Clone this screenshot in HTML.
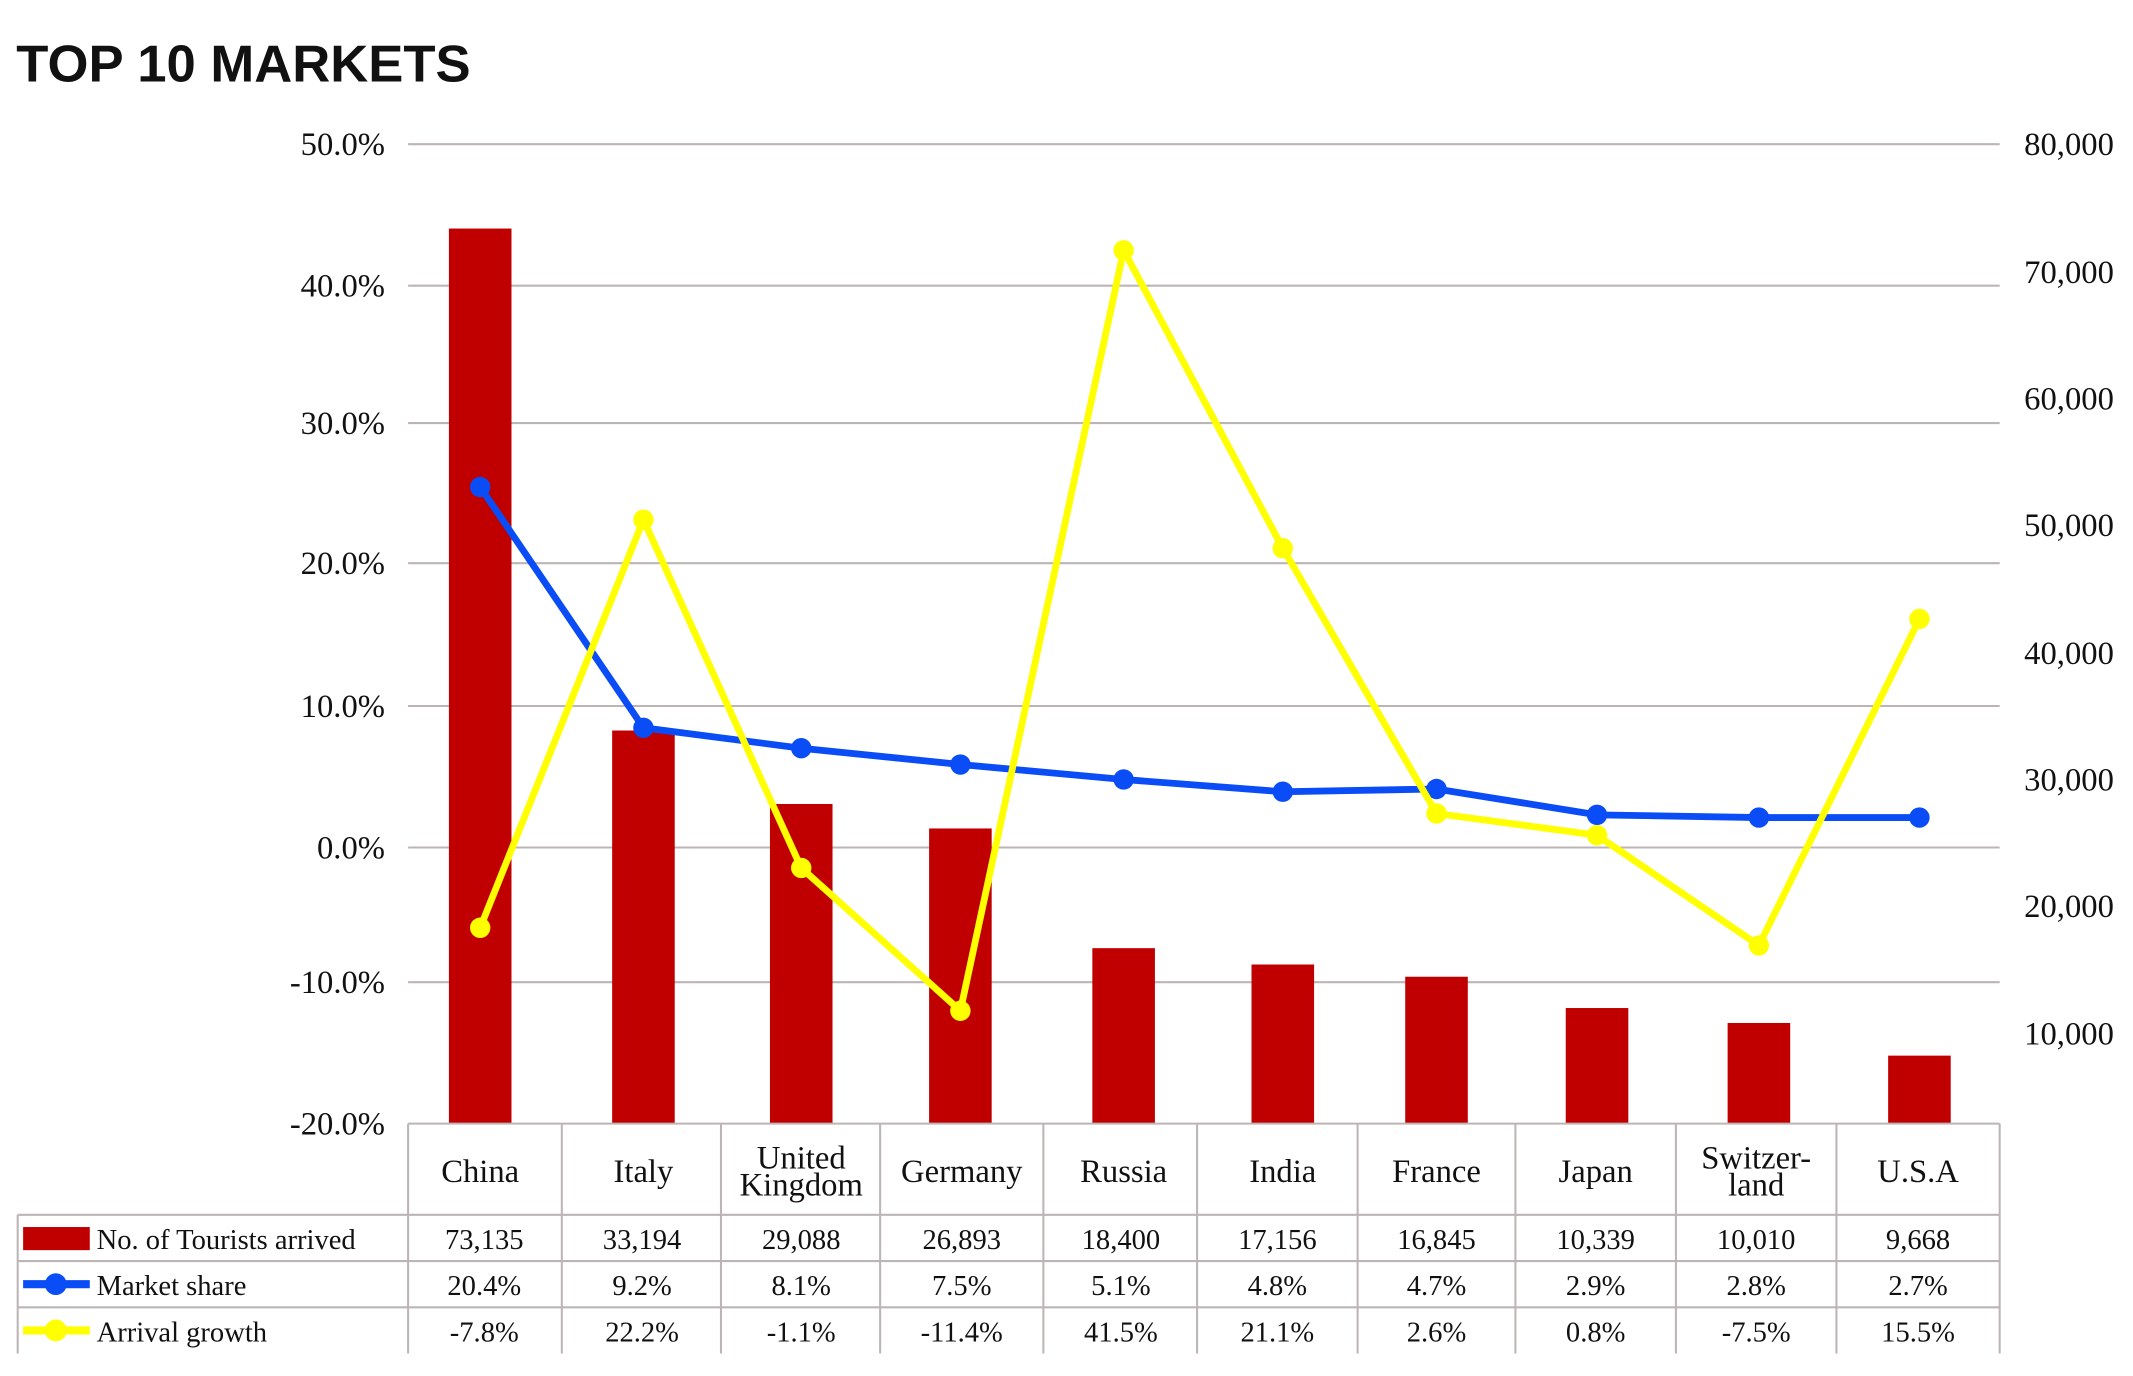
<!DOCTYPE html>
<html><head><meta charset="utf-8"><style>
html,body{margin:0;padding:0;background:#fff;}
svg{display:block;}
text{font-family:"Liberation Serif",serif;fill:#111;}
</style></head><body>
<svg width="2133" height="1376" viewBox="0 0 1568 1011.5" preserveAspectRatio="none" xmlns="http://www.w3.org/2000/svg">
<text x="12" y="60" style="font-family:'Liberation Sans',sans-serif;font-weight:bold;font-size:38px" textLength="334" lengthAdjust="spacingAndGlyphs">TOP 10 MARKETS</text>
<g stroke="#bdb5b5" stroke-width="1.5">
<line x1="300" y1="106" x2="1470" y2="106"/>
<line x1="300" y1="210" x2="1470" y2="210"/>
<line x1="300" y1="311" x2="1470" y2="311"/>
<line x1="300" y1="414" x2="1470" y2="414"/>
<line x1="300" y1="519" x2="1470" y2="519"/>
<line x1="300" y1="623" x2="1470" y2="623"/>
<line x1="300" y1="722" x2="1470" y2="722"/>
</g>
<g font-size="24" text-anchor="end">
<text x="283" y="114">50.0%</text><text x="283" y="218">40.0%</text><text x="283" y="319">30.0%</text>
<text x="283" y="422">20.0%</text><text x="283" y="527">10.0%</text><text x="283" y="631">0.0%</text>
<text x="283" y="730">-10.0%</text><text x="283" y="834">-20.0%</text>
</g>
<g font-size="24">
<text x="1488" y="114">80,000</text><text x="1488" y="208">70,000</text><text x="1488" y="301">60,000</text>
<text x="1488" y="394">50,000</text><text x="1488" y="488">40,000</text><text x="1488" y="581">30,000</text>
<text x="1488" y="674">20,000</text><text x="1488" y="768">10,000</text>
</g>
<g fill="#c00000">
<rect x="330" y="168" width="46" height="658"/>
<rect x="450" y="537" width="46" height="289"/>
<rect x="566" y="591" width="46" height="235"/>
<rect x="683" y="609" width="46" height="217"/>
<rect x="803" y="697" width="46" height="129"/>
<rect x="920" y="709" width="46" height="117"/>
<rect x="1033" y="718" width="46" height="108"/>
<rect x="1151" y="741" width="46" height="85"/>
<rect x="1270" y="752" width="46" height="74"/>
<rect x="1388" y="776" width="46" height="50"/>
</g>
<polyline fill="none" stroke="#0a4cf5" stroke-width="5" points="353,358 473,535 589,550 706,562 826,573 943,582 1056,580 1174,599 1293,601 1411,601"/>
<g fill="#0a4cf5">
<circle cx="353" cy="358" r="7.5"/><circle cx="473" cy="535" r="7.5"/><circle cx="589" cy="550" r="7.5"/><circle cx="706" cy="562" r="7.5"/><circle cx="826" cy="573" r="7.5"/><circle cx="943" cy="582" r="7.5"/><circle cx="1056" cy="580" r="7.5"/><circle cx="1174" cy="599" r="7.5"/><circle cx="1293" cy="601" r="7.5"/><circle cx="1411" cy="601" r="7.5"/>
</g>
<polyline fill="none" stroke="#ffff00" stroke-width="5" points="353,682 473,382 589,638 706,743 826,184 943,403 1056,598 1174,614 1293,695 1411,455"/>
<g fill="#ffff00">
<circle cx="353" cy="682" r="7.5"/><circle cx="473" cy="382" r="7.5"/><circle cx="589" cy="638" r="7.5"/><circle cx="706" cy="743" r="7.5"/><circle cx="826" cy="184" r="7.5"/><circle cx="943" cy="403" r="7.5"/><circle cx="1056" cy="598" r="7.5"/><circle cx="1174" cy="614" r="7.5"/><circle cx="1293" cy="695" r="7.5"/><circle cx="1411" cy="455" r="7.5"/>
</g>
<g stroke="#bdb5b5" stroke-width="1.5">
<line x1="300" y1="826" x2="1470" y2="826"/>
<line x1="13" y1="893" x2="1470" y2="893"/>
<line x1="13" y1="927" x2="1470" y2="927"/>
<line x1="13" y1="961" x2="1470" y2="961"/>
<line x1="13" y1="893" x2="13" y2="995"/>
<line x1="300" y1="826" x2="300" y2="995"/>
<line x1="413" y1="826" x2="413" y2="995"/>
<line x1="530" y1="826" x2="530" y2="995"/>
<line x1="647" y1="826" x2="647" y2="995"/>
<line x1="767" y1="826" x2="767" y2="995"/>
<line x1="880" y1="826" x2="880" y2="995"/>
<line x1="998" y1="826" x2="998" y2="995"/>
<line x1="1114" y1="826" x2="1114" y2="995"/>
<line x1="1232" y1="826" x2="1232" y2="995"/>
<line x1="1350" y1="826" x2="1350" y2="995"/>
<line x1="1470" y1="826" x2="1470" y2="995"/>
</g>
<g font-size="24" text-anchor="middle">
<text x="353" y="869">China</text><text x="473" y="869">Italy</text>
<text x="589" y="859">United</text><text x="589" y="879">Kingdom</text>
<text x="707" y="869">Germany</text><text x="826" y="869">Russia</text><text x="943" y="869">India</text>
<text x="1056" y="869">France</text><text x="1173" y="869">Japan</text>
<text x="1291" y="859">Switzer-</text><text x="1291" y="879">land</text>
<text x="1410" y="869">U.S.A</text>
</g>
<g font-size="21" text-anchor="middle">
<text x="356" y="918">73,135</text><text x="472" y="918">33,194</text><text x="589" y="918">29,088</text><text x="707" y="918">26,893</text><text x="824" y="918">18,400</text><text x="939" y="918">17,156</text><text x="1056" y="918">16,845</text><text x="1173" y="918">10,339</text><text x="1291" y="918">10,010</text><text x="1410" y="918">9,668</text>
<text x="356" y="952">20.4%</text><text x="472" y="952">9.2%</text><text x="589" y="952">8.1%</text><text x="707" y="952">7.5%</text><text x="824" y="952">5.1%</text><text x="939" y="952">4.8%</text><text x="1056" y="952">4.7%</text><text x="1173" y="952">2.9%</text><text x="1291" y="952">2.8%</text><text x="1410" y="952">2.7%</text>
<text x="356" y="986">-7.8%</text><text x="472" y="986">22.2%</text><text x="589" y="986">-1.1%</text><text x="707" y="986">-11.4%</text><text x="824" y="986">41.5%</text><text x="939" y="986">21.1%</text><text x="1056" y="986">2.6%</text><text x="1173" y="986">0.8%</text><text x="1291" y="986">-7.5%</text><text x="1410" y="986">15.5%</text>
</g>
<rect x="17" y="902" width="49" height="17" fill="#c00000"/>
<line x1="17" y1="944" x2="66" y2="944" stroke="#0a4cf5" stroke-width="6"/><circle cx="41" cy="944" r="8" fill="#0a4cf5"/>
<line x1="17" y1="978" x2="66" y2="978" stroke="#ffff00" stroke-width="6"/><circle cx="41" cy="978" r="8" fill="#ffff00"/>
<g font-size="21">
<text x="71" y="918">No. of Tourists arrived</text>
<text x="71" y="952">Market share</text>
<text x="71" y="986">Arrival growth</text>
</g>
</svg>
</body></html>
